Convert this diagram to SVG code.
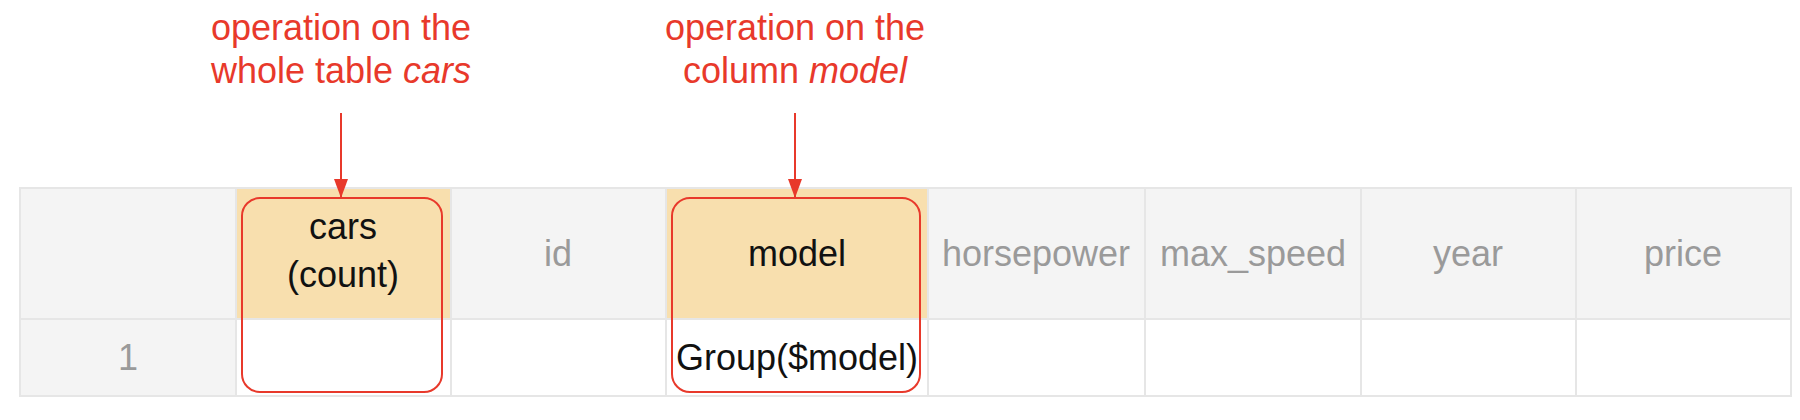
<svg xmlns="http://www.w3.org/2000/svg" width="1800" height="420" viewBox="0 0 1800 420">
<defs>
<style>
text{font-family:"Liberation Sans",Arial,sans-serif;font-size:36px;text-anchor:middle}
.lbl{fill:#e8392b}
.hd{fill:#9a9a9a}
.blk{fill:#111111}
.grid{stroke:#e6e6e6;stroke-width:2;fill:none}
.hl{fill:none;stroke:#e8392b;stroke-width:2}
.arr{stroke:#e8392b;stroke-width:2;fill:none}
</style>
<marker id="ah" viewBox="0 0 19 14" refX="19" refY="7" markerWidth="19" markerHeight="14" markerUnits="userSpaceOnUse" orient="auto">
<path d="M0,0 L19,7 L0,14 Z" fill="#e8392b"/>
</marker>
</defs>
<rect width="1800" height="420" fill="#ffffff"/>
<g id="table">
<rect x="20" y="188" width="1771" height="131" fill="#f4f4f4"/>
<rect x="236" y="188" width="215" height="131" fill="#f8dfae"/>
<rect x="666" y="188" width="262" height="131" fill="#f8dfae"/>
<rect x="20" y="319" width="216" height="77" fill="#f4f4f4"/>
<rect x="236" y="319" width="1555" height="77" fill="#ffffff"/>
<g class="grid">
<rect x="20" y="188" width="1771" height="208"/>
<line x1="20" y1="319" x2="1791" y2="319"/>
<line x1="236" y1="188" x2="236" y2="396"/>
<line x1="451" y1="188" x2="451" y2="396"/>
<line x1="666" y1="188" x2="666" y2="396"/>
<line x1="928" y1="188" x2="928" y2="396"/>
<line x1="1145" y1="188" x2="1145" y2="396"/>
<line x1="1361" y1="188" x2="1361" y2="396"/>
<line x1="1576" y1="188" x2="1576" y2="396"/>
</g>
</g>
<g id="node-cars">
<text class="blk" x="343" y="239">cars</text>
<text class="blk" x="343" y="287">(count)</text>
<rect class="hl" x="242" y="198" width="200" height="194" rx="18"/>
</g>
<g id="node-id"><text class="hd" x="558" y="266">id</text></g>
<g id="node-model">
<text class="blk" x="797" y="266">model</text>
<text class="blk" x="797" y="370">Group($model)</text>
<rect class="hl" x="672" y="198" width="248" height="194" rx="18"/>
</g>
<g id="node-horsepower"><text class="hd" x="1036" y="266">horsepower</text></g>
<g id="node-max_speed"><text class="hd" x="1253" y="266">max_speed</text></g>
<g id="node-year"><text class="hd" x="1468" y="266">year</text></g>
<g id="node-price"><text class="hd" x="1683" y="266">price</text></g>
<g id="node-row1"><text class="hd" x="128" y="370">1</text></g>
<g id="label-table">
<text class="lbl" x="341" y="40">operation on the</text>
<text class="lbl" x="341" y="83">whole table <tspan font-style="italic">cars</tspan></text>
</g>
<g id="label-column">
<text class="lbl" x="795" y="40">operation on the</text>
<text class="lbl" x="795" y="83">column <tspan font-style="italic">model</tspan></text>
</g>
<g id="connectors">
<line class="arr" x1="341" y1="113" x2="341" y2="198" marker-end="url(#ah)"/>
<line class="arr" x1="795" y1="113" x2="795" y2="198" marker-end="url(#ah)"/>
</g>
</svg>
